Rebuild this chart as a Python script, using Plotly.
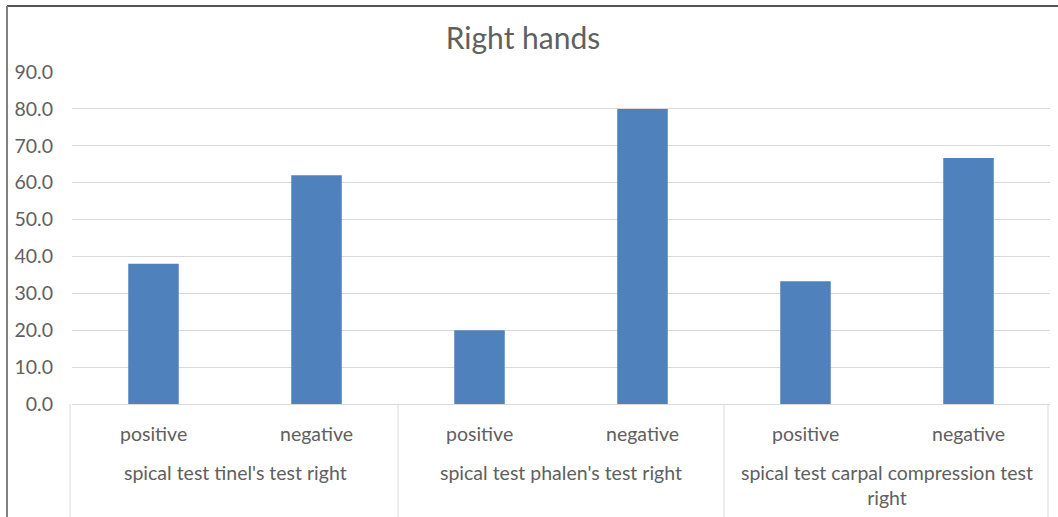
import plotly.graph_objects as go

groups = ["spical test tinel's test right", "spical test tinel's test right",
          "spical test phalen's test right", "spical test phalen's test right",
          "spical test carpal compression test<br>right", "spical test carpal compression test<br>right"]
results = ["positive", "negative", "positive", "negative", "positive", "negative"]
values = [38.0, 62.0, 20.0, 80.0, 33.3, 66.7]
y_ticks = [0, 10, 20, 30, 40, 50, 60, 70, 80, 90]
y_tick_labels = ["0.0", "10.0", "20.0", "30.0", "40.0", "50.0", "60.0", "70.0", "80.0", "90.0"]

W, H = 1058, 517
L, R, T, B = 72, 8, 72, 113
pw = W - L - R
ph = H - T - B

def px_x(x):
    return (x - L) / pw

def px_y(y):
    return (H - B - y) / ph

font_family = "Lato, Open Sans, sans-serif"
grey = "#606060"
line_grey = "#d9d9d9"
fs = 19.5

fig = go.Figure()
fig.add_trace(go.Bar(
    x=[groups, results], y=values,
    marker=dict(color="#4f81bd", line=dict(width=0)),
    hoverinfo="skip",
))

fig.update_layout(
    width=W, height=H,
    margin=dict(l=L, r=R, t=T, b=B, pad=0),
    paper_bgcolor="white", plot_bgcolor="white",
    bargap=0.69,
    showlegend=False,
    title=dict(text="Right hands", x=523 / W, xanchor="center", y=1 - 38 / H, yanchor="middle",
               font=dict(family=font_family, size=30, color=grey)),
    font=dict(family=font_family, size=fs, color=grey),
    xaxis=dict(
        type="multicategory",
        showline=True, linecolor=line_grey, linewidth=1,
        showdividers=False, showticklabels=False,
        ticks="", showgrid=False, automargin=False,
    ),
    yaxis=dict(
        range=[0, 90], tickvals=y_ticks, ticktext=y_tick_labels,
        showgrid=True, gridcolor=line_grey, gridwidth=1,
        zeroline=False, showline=False, ticks="",
        tickfont=dict(family=font_family, size=fs, color=grey),
        ticklabelstandoff=18, automargin=False,
    ),
)

n = len(results)
# category labels (inner level)
for i, lab in enumerate(results):
    fig.add_annotation(text=lab, xref="paper", yref="paper",
                       x=(i + 0.5) / n, y=px_y(433), xanchor="center", yanchor="middle",
                       showarrow=False, font=dict(family=font_family, size=fs, color=grey))
# group labels (outer level)
seen = []
for i, g in enumerate(groups):
    if g in seen:
        continue
    seen.append(g)
    idx = [j for j, gg in enumerate(groups) if gg == g]
    cx = (idx[0] + idx[-1] + 1) / 2 / n
    fig.add_annotation(text=g, xref="paper", yref="paper",
                       x=cx, y=px_y(459), xanchor="center", yanchor="top",
                       showarrow=False, font=dict(family=font_family, size=fs, color=grey))
# group dividers
bounds = [0] + [j for j in range(1, n) if groups[j] != groups[j - 1]] + [n]
for b in bounds:
    xp = b / n
    if b == 0:
        xp = px_x(70)
    elif b == n:
        xp = px_x(1048)
    fig.add_shape(type="line", xref="paper", yref="paper",
                  x0=xp, x1=xp, y0=0, y1=px_y(H + 5),
                  line=dict(color=line_grey, width=1))

# outer chart border (left and top edges visible)
fig.add_shape(type="line", xref="paper", yref="paper",
              x0=px_x(7), x1=px_x(W + 5), y0=px_y(6), y1=px_y(6),
              line=dict(color="#555555", width=2))
fig.add_shape(type="line", xref="paper", yref="paper",
              x0=px_x(7), x1=px_x(7), y0=px_y(6), y1=px_y(H + 5),
              line=dict(color="#808080", width=2))

fig.write_html("out.html", config={"displayModeBar": False},
               post_script="document.body.style.margin='0';")
